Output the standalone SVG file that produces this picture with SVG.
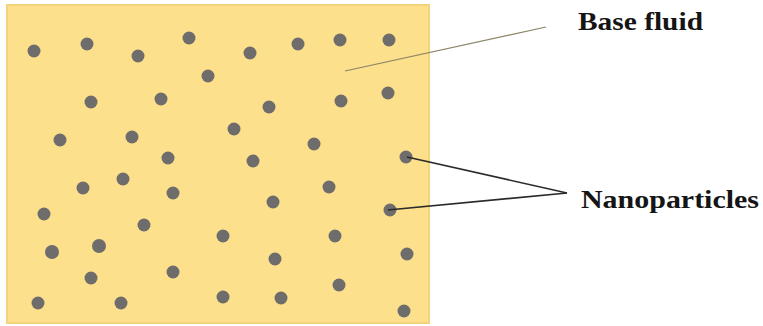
<svg xmlns="http://www.w3.org/2000/svg" width="763" height="326" viewBox="0 0 763 326">
<style>
.p{fill:#6f6d6c}
.lbl{font-family:"Liberation Serif","Times New Roman",serif;font-weight:bold;font-size:25px;fill:#151515}
</style>
<rect width="763" height="326" fill="#fff"/>
<g id="fluid">
<rect x="7" y="5" width="422" height="318" fill="#fde08b" stroke="#f3d37c" stroke-width="2"/>
</g>
<g id="particles">
<circle class="p" cx="34" cy="51" r="6.5"/>
<circle class="p" cx="87" cy="44" r="6.5"/>
<circle class="p" cx="138" cy="56" r="6.5"/>
<circle class="p" cx="189" cy="38" r="6.5"/>
<circle class="p" cx="250" cy="53" r="6.5"/>
<circle class="p" cx="298" cy="44" r="6.5"/>
<circle class="p" cx="340" cy="40" r="6.5"/>
<circle class="p" cx="389" cy="40" r="6.5"/>
<circle class="p" cx="208" cy="76" r="6.5"/>
<circle class="p" cx="91" cy="102" r="6.5"/>
<circle class="p" cx="161" cy="99" r="6.5"/>
<circle class="p" cx="269" cy="107" r="6.5"/>
<circle class="p" cx="341" cy="101" r="6.5"/>
<circle class="p" cx="388" cy="93" r="6.5"/>
<circle class="p" cx="60" cy="140" r="6.5"/>
<circle class="p" cx="132" cy="137" r="6.5"/>
<circle class="p" cx="234" cy="129" r="6.5"/>
<circle class="p" cx="314" cy="144" r="6.5"/>
<circle class="p" cx="168" cy="158" r="6.5"/>
<circle class="p" cx="253" cy="161" r="6.5"/>
<circle class="p" cx="406" cy="157" r="6.5"/>
<circle class="p" cx="83" cy="188" r="6.5"/>
<circle class="p" cx="123" cy="179" r="6.5"/>
<circle class="p" cx="173" cy="193" r="6.5"/>
<circle class="p" cx="329" cy="187" r="6.5"/>
<circle class="p" cx="273" cy="202" r="6.5"/>
<circle class="p" cx="390" cy="210" r="6.5"/>
<circle class="p" cx="44" cy="214" r="6.5"/>
<circle class="p" cx="144" cy="225" r="6.5"/>
<circle class="p" cx="223" cy="236" r="6.5"/>
<circle class="p" cx="335" cy="236" r="6.5"/>
<circle class="p" cx="52" cy="252" r="7"/>
<circle class="p" cx="99" cy="246" r="7"/>
<circle class="p" cx="275" cy="259" r="6.5"/>
<circle class="p" cx="407" cy="254" r="6.5"/>
<circle class="p" cx="91" cy="278" r="6.5"/>
<circle class="p" cx="173" cy="272" r="6.5"/>
<circle class="p" cx="339" cy="285" r="6.5"/>
<circle class="p" cx="38" cy="303" r="6.5"/>
<circle class="p" cx="121" cy="303" r="6.5"/>
<circle class="p" cx="223" cy="297" r="6.5"/>
<circle class="p" cx="281" cy="298" r="6.5"/>
<circle class="p" cx="404" cy="311" r="6.5"/>
</g>
<g id="connectors" fill="none">
<line x1="345" y1="71" x2="546" y2="27" stroke="#8c8468" stroke-width="1.2"/>
<line x1="407" y1="157" x2="567" y2="193" stroke="#2a2a2a" stroke-width="1.6"/>
<line x1="388" y1="210" x2="567" y2="193" stroke="#2a2a2a" stroke-width="1.6"/>
</g>
<g id="label-base-fluid">
<text class="lbl" x="578" y="30" textLength="125" lengthAdjust="spacingAndGlyphs">Base fluid</text>
</g>
<g id="label-nanoparticles">
<text class="lbl" x="581" y="208" textLength="178" lengthAdjust="spacingAndGlyphs">Nanoparticles</text>
</g>
</svg>
